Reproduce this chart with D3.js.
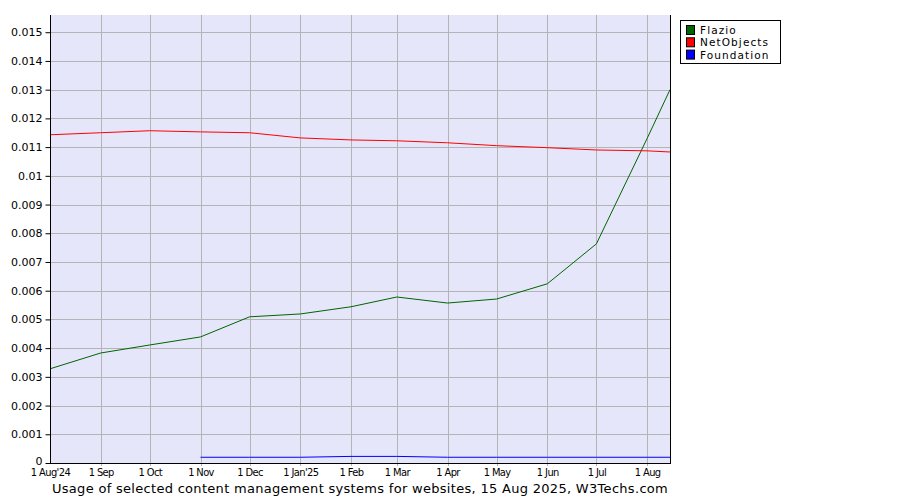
<!DOCTYPE html>
<html><head><meta charset="utf-8">
<script src="https://cdn.jsdelivr.net/npm/d3@7"></script>
<style>body{margin:0;background:#fff}svg{display:block}</style>
</head><body>
<svg id="c" width="900" height="500"></svg>
<script>
const dates = ["2024-08-01","2024-09-01","2024-10-01","2024-11-01","2024-12-01","2025-01-01","2025-02-01","2025-03-01","2025-04-01","2025-05-01","2025-06-01","2025-07-01","2025-08-01","2025-08-15"];
const flazio = [0.00328,0.00383,0.00411,0.00439,0.00509,0.00519,0.00544,0.00578,0.00557,0.00571,0.00624,0.00763,0.01130,0.01300];
const netobjects = [0.01143,0.01150,0.01157,0.01153,0.01150,0.01132,0.01125,0.01122,0.01115,0.01105,0.01098,0.01090,0.01087,0.01083];
const foundation = [null,null,null,0.00020,0.00020,0.00020,0.00023,0.00023,0.00020,0.00020,0.00020,0.00020,0.00020,0.00020];
const seriesNames = ["Flazio","NetObjects","Foundation"];
const seriesColors = ["#006400","#ff0000","#0000ff"];
const xTickDates = ["2024-08-01","2024-09-01","2024-10-01","2024-11-01","2024-12-01","2025-01-01","2025-02-01","2025-03-01","2025-04-01","2025-05-01","2025-06-01","2025-07-01","2025-08-01"];
const xTickLabels = ["1 Aug'24","1 Sep","1 Oct","1 Nov","1 Dec","1 Jan'25","1 Feb","1 Mar","1 Apr","1 May","1 Jun","1 Jul","1 Aug"];
const yTicks = [0,0.001,0.002,0.003,0.004,0.005,0.006,0.007,0.008,0.009,0.01,0.011,0.012,0.013,0.014,0.015];
const title = "Usage of selected content management systems for websites, 15 Aug 2025, W3Techs.com";

const parse = d3.utcParse("%Y-%m-%d");
const L = 50, R = 670, T = 15, B = 463;
const svg = d3.select("#c");
const x = d3.scaleUtc().domain([parse("2024-08-01"), parse("2025-08-15")]).range([L, R]);
const y = d3.scaleLinear().domain([0, 0.0156]).range([B, T]);

svg.append("rect").attr("x", L).attr("y", T).attr("width", R - L).attr("height", B - T).attr("fill", "#e6e6fa");

// grid
svg.append("g").selectAll("line").data(yTicks.slice(1)).join("line")
  .attr("x1", L).attr("x2", R).attr("y1", d => Math.round(y(d)) + 0.5).attr("y2", d => Math.round(y(d)) + 0.5)
  .attr("stroke", "#b4b4b4").attr("stroke-width", 1);
svg.append("g").selectAll("line").data(xTickDates.slice(1)).join("line")
  .attr("x1", d => Math.round(x(parse(d))) + 0.5).attr("x2", d => Math.round(x(parse(d))) + 0.5)
  .attr("y1", T).attr("y2", B + 3)
  .attr("stroke", "#b4b4b4").attr("stroke-width", 1);

// lines
const series = [flazio, netobjects, foundation];
series.forEach((vals, i) => {
  const line = d3.line().defined(d => d[1] != null).x(d => x(parse(d[0]))).y(d => y(d[1]));
  svg.append("path").datum(dates.map((d, j) => [d, vals[j]]))
    .attr("d", line).attr("fill", "none").attr("stroke", seriesColors[i]).attr("stroke-width", 1);
});

// y axis
const yAxis = d3.axisLeft(y).tickValues(yTicks).tickSize(5).tickPadding(3)
  .tickFormat(d => d === 0 ? "0" : d3.format(".3~f")(d));
const gy = svg.append("g").attr("transform", `translate(${L + 0.5},0)`).call(yAxis);
gy.select(".domain").attr("stroke", "#000").attr("d", `M0,${T}V${B + 0.5}`);
gy.selectAll(".tick line").attr("stroke", "#000");
gy.selectAll("text").attr("font-family", "DejaVu Sans, Verdana, sans-serif").attr("font-size", 11).attr("fill", "#000");
gy.selectAll(".tick").filter(d => d === 0).select("text").attr("dy", "0.1em");

// x axis
const xAxis = d3.axisBottom(x).tickValues(xTickDates.map(parse)).tickSize(0).tickPadding(5)
  .tickFormat((d, i) => xTickLabels[i]);
const gx = svg.append("g").attr("transform", `translate(0,${B + 0.5})`).call(xAxis);
gx.select(".domain").attr("stroke", "#000").attr("d", `M${L},0H${R + 0.5}`);
gx.selectAll("text").attr("font-family", "DejaVu Sans Condensed, DejaVu Sans, sans-serif").attr("font-size", 11)
  .attr("letter-spacing", "-0.6px").attr("fill", "#000");

// right border
svg.append("line").attr("x1", R + 0.5).attr("x2", R + 0.5).attr("y1", T).attr("y2", B + 1).attr("stroke", "#000");

// title
svg.append("text").attr("x", 360).attr("y", 493).attr("text-anchor", "middle")
  .attr("font-family", "DejaVu Sans, Verdana, sans-serif").attr("font-size", 13).attr("letter-spacing", "0.3px")
  .attr("fill", "#000").text(title);

// legend
const lg = svg.append("g");
lg.append("rect").attr("x", 680.5).attr("y", 20.5).attr("width", 100).attr("height", 43).attr("fill", "#fff").attr("stroke", "#000");
seriesNames.forEach((n, i) => {
  const yy = 25 + i * 12.3;
  lg.append("rect").attr("x", 686.5).attr("y", yy + 0.5).attr("width", 8).attr("height", 9)
    .attr("fill", seriesColors[i]).attr("stroke", "#000");
  lg.append("text").attr("x", 700).attr("y", yy + 9).attr("font-family", "DejaVu Sans, Verdana, sans-serif")
    .attr("font-size", 10.5).attr("letter-spacing", "1.1px").attr("fill", "#000").text(n);
});
</script>
</body></html>
